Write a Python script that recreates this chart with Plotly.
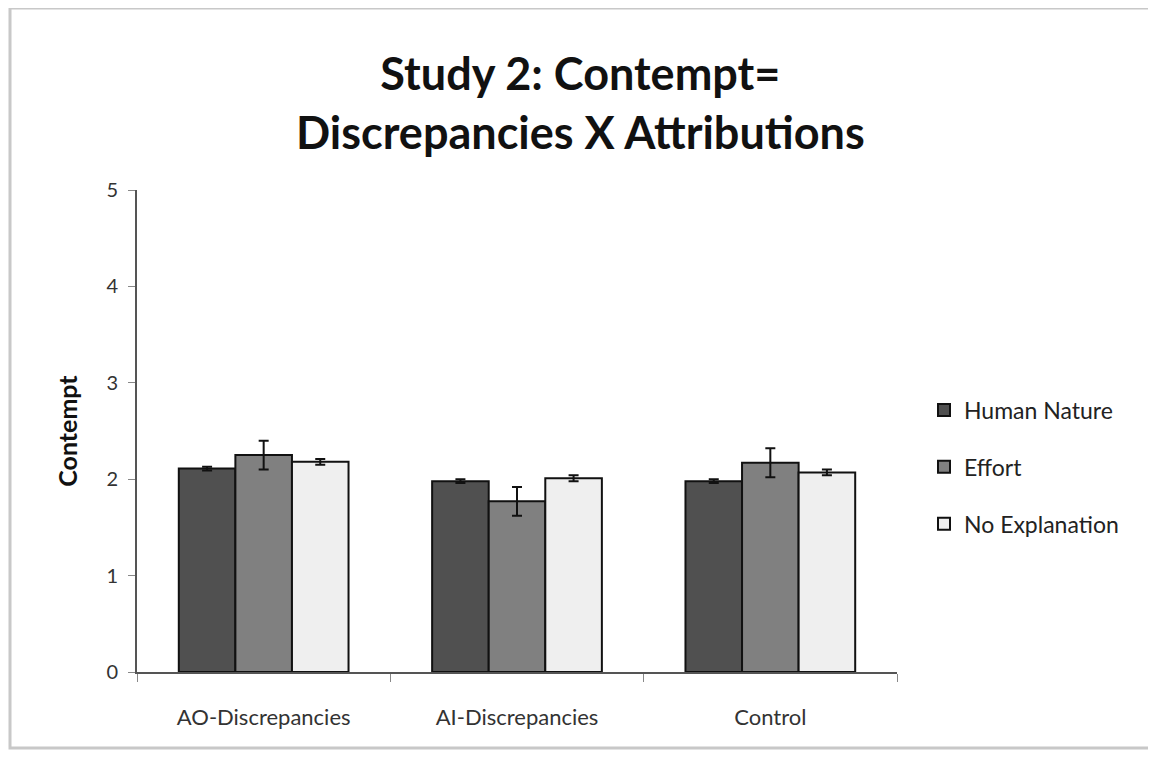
import plotly.graph_objects as go

# Data
CATEGORIES = ["AO-Discrepancies", "AI-Discrepancies", "Control"]
SERIES = ["Human Nature", "Effort", "No Explanation"]
HUMAN_NATURE = [2.11, 1.98, 1.98]
EFFORT = [2.25, 1.77, 2.17]
NO_EXPLANATION = [2.18, 2.01, 2.07]
HUMAN_NATURE_ERR = [0.02, 0.02, 0.02]
EFFORT_ERR = [0.15, 0.15, 0.15]
NO_EXPLANATION_ERR = [0.03, 0.03, 0.03]
Y_TICKS = [0, 1, 2, 3, 4, 5]

COLORS = ["#505050", "#808080", "#efefef"]
FONT = "Lato, 'Open Sans', sans-serif"

# page body adds an 8px offset, so work in figure pixels
W, H = 1148, 751
L, R, T, B = 129, 259, 182, 87
PW, PH = W - L - R, H - T - B


def px_x(v):
    return (v - L) / PW


def px_y(v):
    return (H - B - v) / PH


fig = go.Figure()

values = [HUMAN_NATURE, EFFORT, NO_EXPLANATION]
errors = [HUMAN_NATURE_ERR, EFFORT_ERR, NO_EXPLANATION_ERR]
for i, name in enumerate(SERIES):
    fig.add_trace(go.Bar(
        x=CATEGORIES,
        y=values[i],
        name=name,
        legendgroup=name,
        marker=dict(color=COLORS[i], line=dict(color="#111", width=2)),
        error_y=dict(type="data", array=errors[i], color="#111", thickness=2, width=5),
    ))

# outer chart frame (gray border like the spreadsheet export)
fig.add_shape(type="rect", xref="paper", yref="paper",
              x0=px_x(2), x1=px_x(1144), y0=px_y(740), y1=px_y(0),
              line=dict(color="#c8c8c8", width=3), layer="below")

# two-line title
fig.add_annotation(
    text="Study 2: Contempt=<br>Discrepancies X Attributions",
    xref="paper", yref="paper",
    x=px_x(572), y=px_y(95), xanchor="center", yanchor="middle",
    showarrow=False,
    font=dict(family=FONT, size=45, color="#111", weight="bold"),
)

fig.update_layout(
    width=W, height=H,
    margin=dict(l=L, r=R, t=T, b=B),
    paper_bgcolor="white",
    plot_bgcolor="white",
    barmode="group",
    bargap=0.33,
    bargroupgap=0,
    font=dict(family=FONT, size=18, color="#333"),
    legend=dict(
        x=px_x(916), y=px_y(459), xanchor="left", yanchor="middle",
        font=dict(size=23, color="#222"),
        tracegroupgap=24,
        traceorder="grouped",
        itemwidth=30,
    ),
    showlegend=True,
)

fig.update_xaxes(
    showline=True, linecolor="#555", linewidth=2,
    ticks="outside", tickson="boundaries", ticklen=8, tickcolor="#888",
    tickfont=dict(size=22, color="#333"),
    ticklabelstandoff=25,
    showgrid=False,
)
fig.update_yaxes(
    range=[0, 5], tickvals=Y_TICKS,
    showline=True, linecolor="#555", linewidth=2,
    ticks="outside", ticklen=7, tickcolor="#888",
    tickfont=dict(size=20, color="#333"),
    ticklabelstandoff=6,
    showgrid=False, zeroline=False,
    title=dict(text="Contempt", font=dict(size=25, color="#111", weight="bold"), standoff=22),
)

fig.write_html("out.html")
